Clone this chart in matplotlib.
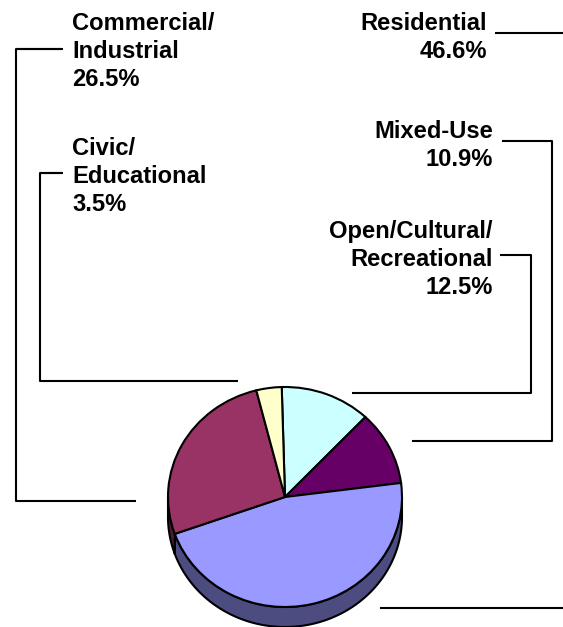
import numpy as np
import matplotlib.pyplot as plt
from matplotlib.patches import Polygon

# -------------- Data ----------------
categories = ['Open/Cultural/\nRecreational', 'Mixed-Use', 'Residential',
              'Commercial/\nIndustrial', 'Civic/\nEducational']
shares = [12.5, 10.9, 46.6, 26.5, 3.5]
top_colors = ['#CCFFFF', '#660066', '#9999FF', '#993366', '#FFFFCC']
side_colors = ['#668080', '#330033', '#4C4C80', '#4D1A33', '#808066']

# -------------- Layout (pixels) ----------------
W, H = 563, 627
cx, cy = 285, 497          # pie centre
rx, ry = 117, 110          # top-face radii (tilted view)
depth = 20                 # thickness of the pie

fig = plt.figure(figsize=(W / 100, H / 100), dpi=100)

# pie axes: one data unit = rx px horizontally, ry px vertically
pax = fig.add_axes([0, 0, 1, 1])
wedges, _ = pax.pie(shares, colors=top_colors, startangle=91.6, counterclock=False,
                    wedgeprops=dict(edgecolor='black', linewidth=1.5))
pax.set_aspect('auto')
pax.set_xlim(-cx / rx, (W - cx) / rx)
pax.set_ylim(-(H - cy) / ry, cy / ry)
pax.axis('off')
for w in wedges:
    w.set_zorder(3)

# side walls on the front half of the pie
d = depth / ry
for w, col in zip(wedges, side_colors):
    t1, t2 = w.theta1, w.theta2
    for k in (-360, 0, 360):
        a, b = max(t1, 180 + k), min(t2, 360 + k)
        if b <= a:
            continue
        t = np.radians(np.linspace(a, b, 80))
        top = np.column_stack([np.cos(t), np.sin(t)])
        bot = np.column_stack([np.cos(t[::-1]), np.sin(t[::-1]) - d])
        pax.add_patch(Polygon(np.vstack([top, bot]), closed=True, facecolor=col,
                              edgecolor='black', linewidth=1.5, zorder=2))

# -------------- Labels and leader lines (pixel coords) ----------------
ax = fig.add_axes([0, 0, 1, 1])
ax.set_xlim(0, W)
ax.set_ylim(H, 0)
ax.axis('off')

font = dict(family=['Liberation Sans', 'DejaVu Sans'], fontsize=17.1,
            fontweight='bold', linespacing=1.28)

label_text = [f'{c}\n{s}%' for c, s in zip(categories, shares)]
# (x, y_top, ha)
label_pos = [(493, 220, 'right'), (493, 120, 'right'), (487, 12, 'right'),
             (72, 12, 'left'), (72, 137, 'left')]
leaders = [
    [(500, 255), (531, 255), (531, 393), (352, 393)],
    [(502, 141), (552, 141), (552, 441), (412, 441)],
    [(495, 33), (563, 33)],
    [(16, 49), (62, 49), (16, 49), (16, 501), (136, 501)],
    [(40, 173), (62, 173), (40, 173), (40, 381), (238, 381)],
]

for txt, (x, y, ha) in zip(label_text, label_pos):
    ax.text(x, y, txt, ha=ha, va='top', multialignment=ha, **font)

for pts in leaders:
    xs, ys = zip(*pts)
    ax.plot(xs, ys, color='black', linewidth=1.5, solid_capstyle='butt')

# residential leader continues at the bottom right
ax.plot([381, 563], [608, 608], color='black', linewidth=1.5)

fig.savefig('out.png', dpi=100)
